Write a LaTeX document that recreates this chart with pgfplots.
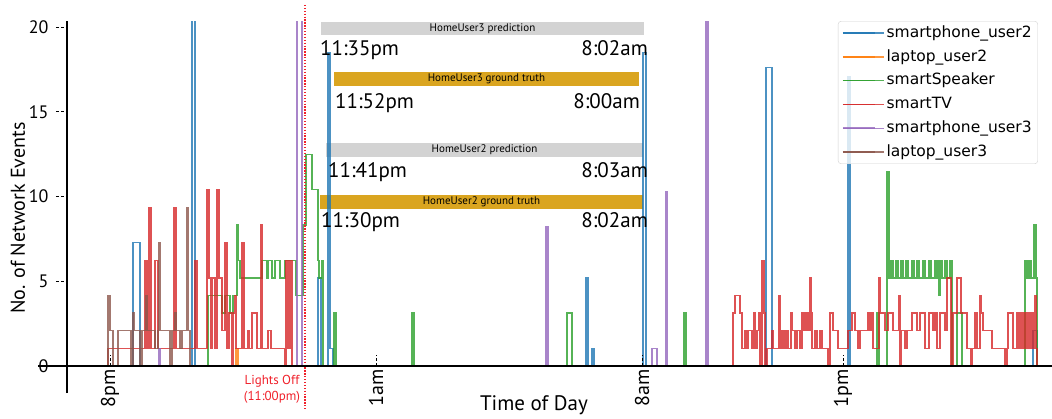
\documentclass[border=0pt]{standalone}
\usepackage{pgfplots}
\pgfplotsset{compat=1.18}
\usepackage{fontspec}
\setmainfont{PT Sans}
\newfontfamily\legfont{DejaVu Sans}
\definecolor{cblue}{HTML}{1F77B4}
\definecolor{corange}{HTML}{FF7F0E}
\definecolor{cgreen}{HTML}{2CA02C}
\definecolor{cred}{HTML}{D62728}
\definecolor{cpurple}{HTML}{9467BD}
\definecolor{cbrown}{HTML}{8C564B}
\definecolor{barGray}{HTML}{D3D3D3}
\definecolor{barGold}{HTML}{DAA520}
\definecolor{lightsRed}{HTML}{F0202A}
\begin{document}
\begin{tikzpicture}
\begin{axis}[
  x=1pt, y=16.95pt,
  xmin=67, xmax=1052, ymin=-1.6, ymax=20.35,
  axis x line=middle, axis y line=left,
  axis line style={-, line width=1.3pt, black},
  axis on top,
  clip mode=individual,
  xtick={110,376,642,843},
  xticklabels={8pm,1am,8am,1pm},
  ytick={0,5,10,15,20},
  hide obscured x ticks=false, hide obscured y ticks=false,
  tick align=inside,
  major tick length=11pt,
  major tick style={line width=0.9pt, black, dash pattern=on 3pt off 2pt},
  every y tick/.append style={xshift=-11pt},
  /pgf/number format/assume math mode=true,
  yticklabel style={font=\fontsize{18}{20}\selectfont, xshift=-15pt},
  xticklabel style={font=\fontsize{20}{22}\selectfont, rotate=90, anchor=east},
  every axis x label/.style={at={(axis description cs:0.4741,-0.0319)}, anchor=center, font=\fontsize{21}{24}\selectfont},
  every axis y label/.style={at={(axis description cs:-0.04975,0.4706)}, anchor=center, rotate=90, font=\fontsize{20}{24}\selectfont},
  xlabel={Time of Day},
  ylabel={No. of Network Events},
  every axis plot/.append style={const plot, line width=1.4pt, draw opacity=0.8},
  legend style={at={(0.7827,1)}, anchor=north west, draw=black!18, rounded corners=3pt,
    fill=white, fill opacity=0.8, text opacity=1, draw opacity=1,
    row sep=4.3pt,
    inner xsep=4pt, inner ysep=2pt,
    nodes={inner ysep=2pt, text height=12pt, text depth=3.5pt, font=\legfont\fontsize{15.5}{18}\selectfont}},
  legend cell align=left,
  legend image code/.code={\draw[#1, line width=1.6pt] (0pt,0pt) -- (32pt,0pt); \path (0pt,0pt) -- (41pt,0pt);},
]
% annotation bars (behind data)
\fill[barGray] (axis cs:321,20.295) rectangle (axis cs:644,19.528);
\fill[barGold] (axis cs:334,17.345) rectangle (axis cs:639,16.519);
\fill[barGray] (axis cs:326,13.156) rectangle (axis cs:643,12.330);
\fill[barGold] (axis cs:320,10.088) rectangle (axis cs:643,9.263);

\addplot[cblue] coordinates {(100,0)(133,7.28)(140,0)(192,25)(195,0)(318,5.2)(321,0)(328,18.5)(330,1.04)(333,0)(586,5.2)(588,0)(592,1.04)(594,0)(643,18.5)(646,0)(766,17.6)(772,0)(848,17.05)(850,0)(1033,2.08)(1037,0)(1040,0)};
\addlegendentry{smartphone\_user2}
\addplot[corange] coordinates {(100,0)(236,1.04)(238,0)(240,0)};
\addlegendentry{laptop\_user2}
\addplot[cgreen] coordinates {(100,0)(208,4.16)(222,3.12)(225,4.16)(230,3.12)(233,4.16)(237,8.32)(238,6.24)(240,5.2)(262,6.24)(267,5.2)(268,6.24)(272,5.2)(275,6.24)(280,5.2)(285,6.24)(296,4.16)(303,8.32)(306,12.48)(312,10.4)(318,6.24)(319,5.2)(322,6.24)(323,0)(334,3.12)(336,0)(412,3.12)(414,0)(567,3.12)(572,0)(684,3.12)(686,0)(877,3.12)(879,0)(887,11.44)(889,5.2)(891,6.24)(893,5.2)(896,6.24)(898,5.2)(901,6.24)(903,5.2)(906,6.24)(908,5.2)(912,6.24)(914,5.2)(917,6.24)(919,5.2)(923,6.24)(925,5.2)(929,6.24)(931,5.2)(935,6.24)(937,5.2)(938,6.24)(939,4.16)(940,6.24)(942,5.2)(945,6.24)(947,5.2)(950,6.24)(952,0)(957,3.12)(962,0)(1025,6.24)(1027,5.2)(1029,6.24)(1031,5.2)(1034,8.32)(1036,5.2)(1037,0)(1040,0)};
\addlegendentry{smartSpeaker}
\addplot[cred] coordinates {(100,0)(108,1.04)(145,6.24)(147,1.04)(149,9.36)(151,1.04)(155,6.24)(158,1.04)(174,9.36)(176,1.04)(195,6.24)(197,1.04)(207,10.4)(209,5.2)(211,1.04)(212,5.2)(215,1.04)(217,10.4)(219,5.2)(222,2.08)(225,7.28)(227,1.04)(229,3.12)(232,0)(233,3.12)(235,4.16)(236,1.04)(242,7.28)(244,1.04)(248,2.08)(249,1.04)(252,3.12)(257,1.04)(261,8.32)(262,1.04)(268,2.08)(271,1.04)(285,0)(286,6.24)(288,1.04)(290,6.24)(292,0)(294,0)
(730,0)(733,3.12)(735,4.16)(740,3.12)(742,1.04)(745,2.08)(747,1.04)(748,2.08)(752,1.04)(754,3.12)(755,1.04)(757,2.08)(759,3.12)(760,0)(762,6.24)(764,3.12)(765,0)(767,1.04)(772,2.08)(773,1.04)(779,4.16)(780,1.04)(782,2.08)(784,1.04)(786,2.08)(788,1.04)(791,3.12)(792,2.08)(795,1.04)(797,2.08)(800,1.04)(802,3.12)(804,2.08)(806,3.12)(808,2.08)(810,5.2)(811,3.12)(812,1.04)(815,2.08)(817,1.04)(820,2.08)(822,1.04)(828,0)(830,3.12)(833,2.08)(838,1.04)(848,2.08)(852,3.12)(855,2.08)(858,1.04)(860,2.08)(868,3.12)(870,2.08)(872,3.12)(873,1.04)(879,5.2)(880,3.12)(885,2.08)(888,3.12)(893,2.08)(899,4.16)(900,0)(901,2.08)(905,1.04)(907,2.08)(912,3.12)(917,2.08)(920,3.12)(925,1.04)(929,3.12)(933,2.08)(935,3.12)(937,1.04)(940,3.12)(945,2.08)(947,5.2)(951,0)(953,3.12)(957,5.2)(961,3.12)(967,1.04)(971,0)(972,1.04)(975,3.12)(977,1.04)(980,4.16)(981,3.12)(983,2.08)(992,1.04)(1005,0)(1007,1.04)(1008,3.12)(1013,1.04)(1017,3.12)(1019,1.04)(1021,3.12)(1023,1.04)(1024,3.12)(1026,1.04)(1027,3.12)(1029,1.04)(1031,3.12)(1033,1.04)(1035,4.16)(1036,1.04)(1037,0)(1040,0)};
\addlegendentry{smartTV}
\addplot[cpurple] coordinates {(100,0)(159,1.04)(160,0)(297,25)(302,0)(546,8.24)(548,0)(652,1.04)(657,0)(666,10.3)(667,0)(706,25)(708,0)(710,0)};
\addlegendentry{smartphone\_user3}
\addplot[cbrown] coordinates {(100,0)(108,4.16)(110,2.08)(113,0)(118,2.08)(131,0)(133,3.12)(134,2.08)(140,0)(142,2.08)(146,4.16)(147,2.08)(155,1.04)(158,2.08)(159,7.28)(160,2.08)(170,0)(172,2.08)(175,3.12)(176,2.08)(180,1.04)(182,2.08)(187,9.36)(188,2.08)(190,0)(192,0)};
\addlegendentry{laptop\_user3}

% bar captions
\node[font=\fontsize{11}{13}\selectfont] at (axis cs:482.5,19.91) {HomeUser3 prediction};
\node[font=\fontsize{11}{13}\selectfont] at (axis cs:486.5,16.93) {HomeUser3 ground truth};
\node[font=\fontsize{11}{13}\selectfont] at (axis cs:484.5,12.74) {HomeUser2 prediction};
\node[font=\fontsize{11}{13}\selectfont] at (axis cs:481.5,9.68) {HomeUser2 ground truth};
% times
\node[anchor=base west, inner sep=0pt, font=\fontsize{21}{24}\selectfont] at (axis cs:320,18.29) {11:35pm};
\node[anchor=base east, inner sep=0pt, font=\fontsize{21}{24}\selectfont] at (axis cs:648,18.29) {8:02am};
\node[anchor=base west, inner sep=0pt, font=\fontsize{21}{24}\selectfont] at (axis cs:335,15.22) {11:52pm};
\node[anchor=base east, inner sep=0pt, font=\fontsize{21}{24}\selectfont] at (axis cs:640,15.22) {8:00am};
\node[anchor=base west, inner sep=0pt, font=\fontsize{21}{24}\selectfont] at (axis cs:328,11.15) {11:41pm};
\node[anchor=base east, inner sep=0pt, font=\fontsize{21}{24}\selectfont] at (axis cs:648,11.15) {8:03am};
\node[anchor=base west, inner sep=0pt, font=\fontsize{21}{24}\selectfont] at (axis cs:321,8.20) {11:30pm};
\node[anchor=base east, inner sep=0pt, font=\fontsize{21}{24}\selectfont] at (axis cs:648,8.20) {8:02am};
% lights off
\draw[lightsRed, line width=1.3pt, dash pattern=on 1.3pt off 1.6pt] (axis cs:305,21.3) -- (axis cs:305,-2.6);
\node[text=lightsRed, align=center, font=\fontsize{13}{16}\selectfont] at (axis cs:272,-1.357) {Lights Off\\(11:00pm)};
% x axis extension
\draw[line width=1.3pt, black] (axis cs:38,0) -- (axis cs:67,0);
\coordinate (BL) at (axis cs:0,-3.068);
\coordinate (TR) at (axis cs:1052,21.593);
\end{axis}
\pgfresetboundingbox
\path[use as bounding box] (BL) rectangle (TR);
\end{tikzpicture}
\end{document}
